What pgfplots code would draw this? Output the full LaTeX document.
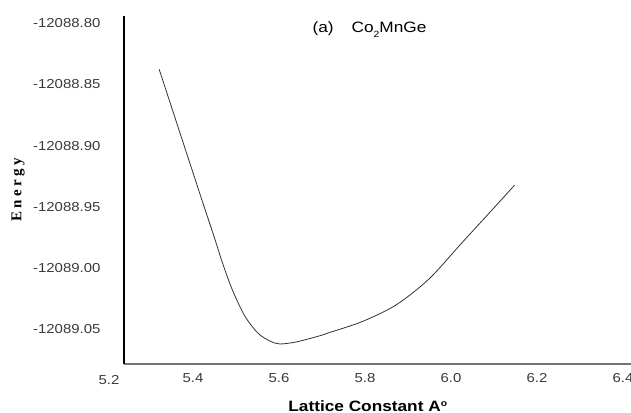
\documentclass[border=0pt]{standalone}
\usepackage{fontspec}
\setmainfont[FakeStretch=1.15]{Liberation Sans}
\newfontfamily\serifb[LetterSpace=22]{Liberation Serif}
\usepackage{pgfplots}
\pgfplotsset{compat=1.18}
\definecolor{tick}{HTML}{3A3A3A}
\begin{document}
\begin{tikzpicture}
\begin{axis}[
  at={(124bp,49bp)}, anchor=south west,
  scale only axis, width=507bp, height=348bp,
  xmin=5.2395, xmax=6.4186, ymin=-0.0787, ymax=0.206,
  axis x line*=bottom, axis y line*=left,
  y axis line style={black, line width=1.6bp},
  x axis line style={black!55, line width=1.1bp},
  major tick length=0pt,
  xtick={5.4,5.6,5.8,6.0,6.2,6.4},
  xticklabels={5.4,5.6,5.8,6.0,6.2,6.4},
  ytick={-0.05,0,0.05,0.10,0.15,0.20},
  yticklabels={-12089.05,-12089.00,-12088.95,-12088.90,-12088.85,-12088.80},
  xticklabel style={font=\fontsize{13bp}{15bp}\selectfont, text=tick, yshift=-6bp},
  yticklabel style={font=\fontsize{13bp}{15bp}\selectfont, text=tick, xshift=-20bp},
  clip=false,
]
\addplot[smooth, tension=0.5, black!80, line width=0.8bp] coordinates {
(5.3213,0.1624)
(5.3699,0.1101)
(5.4208,0.0554)
(5.4463,0.0284)
(5.4694,0.0031)
(5.4926,-0.0190)
(5.5204,-0.0394)
(5.5505,-0.0533)
(5.5782,-0.0598)
(5.6014,-0.0623)
(5.6407,-0.0606)
(5.6940,-0.0557)
(5.7171,-0.0530)
(5.7935,-0.0440)
(5.8722,-0.0304)
(5.9486,-0.0092)
(6.0250,0.0203)
(6.1037,0.0505)
(6.1477,0.0676)
};
\end{axis}
\node[font=\fontsize{13bp}{15bp}\selectfont, text=tick] at (109bp,33bp) {5.2};
\node[anchor=west, font=\fontsize{15bp}{17bp}\selectfont] at (309bp,383bp) {(a)\hspace{18bp}Co\raisebox{-5bp}{\fontsize{9bp}{10bp}\selectfont 2}MnGe};
\node[font=\fontsize{15bp}{17bp}\selectfont\bfseries] at (368bp,7bp) {Lattice Constant A\textsuperscript{\fontsize{9bp}{10bp}\selectfont o}};
\node[rotate=90, font=\fontsize{15bp}{17bp}\selectfont\serifb\bfseries] at (18bp,223bp) {Energy};
\pgfresetboundingbox
\useasboundingbox (0,0) rectangle (631bp,413bp);
\end{tikzpicture}
\end{document}
